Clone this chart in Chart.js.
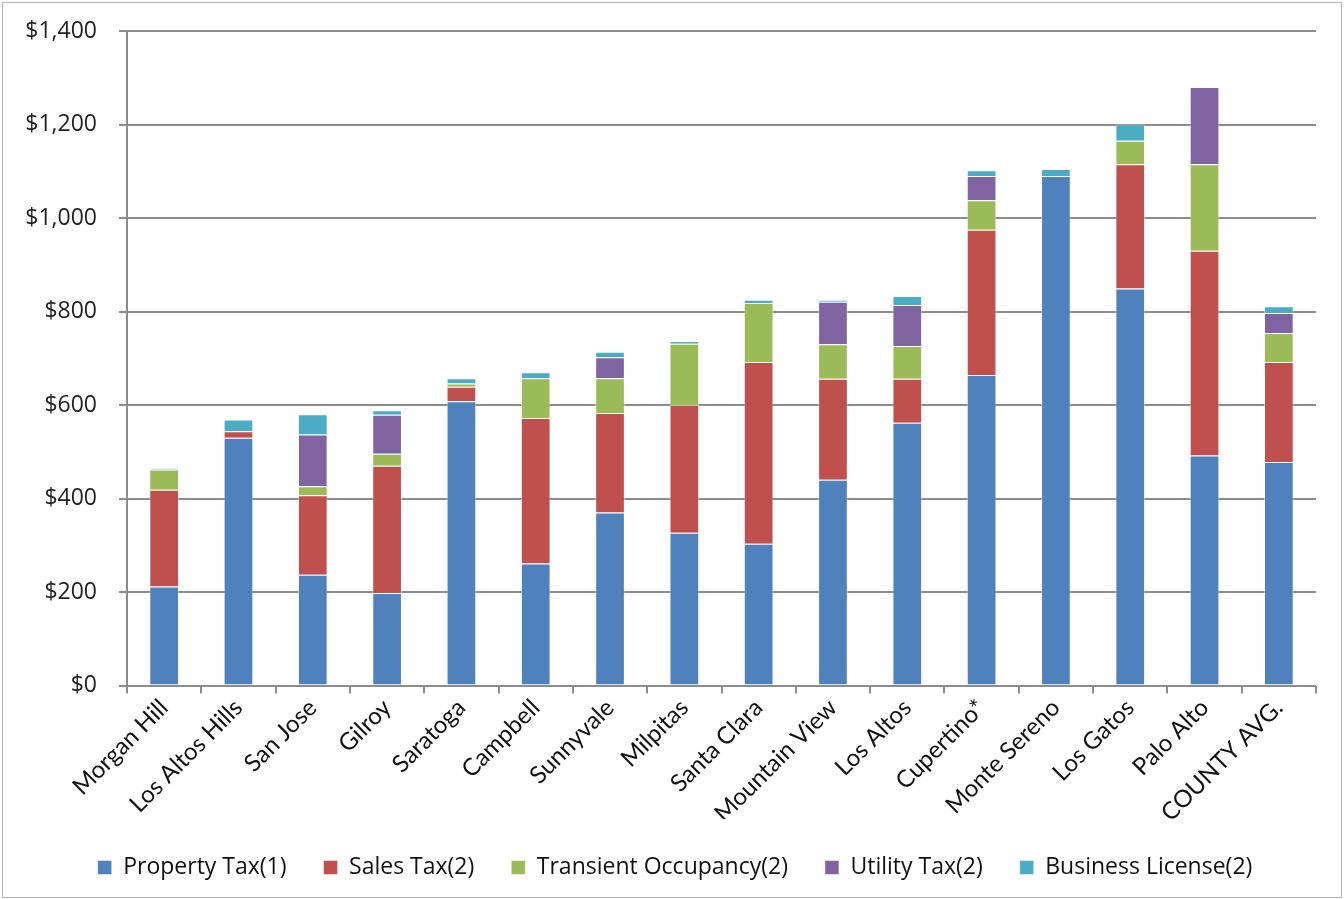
<!DOCTYPE html>
<html>
<head>
<meta charset="utf-8">
<title>Revenue per Capita by City</title>
<script src="https://cdn.jsdelivr.net/npm/chart.js@4"></script>
<style>
	body { margin: 0; background: #fff; }
	.chart-box {
		position: absolute;
		left: 2px;
		top: 2px;
		width: 1338px;
		height: 894px;
		border: 1px solid #b5b5b5;
	}
</style>
</head>
<body>
<div class="chart-box">
	<canvas id="taxChart"></canvas>
</div>
<script>
const cities = [
	'Morgan Hill', 'Los Altos Hills', 'San Jose', 'Gilroy', 'Saratoga', 'Campbell',
	'Sunnyvale', 'Milpitas', 'Santa Clara', 'Mountain View', 'Los Altos', 'Cupertino*',
	'Monte Sereno', 'Los Gatos', 'Palo Alto', 'COUNTY AVG.',
]

const propertyTax = [212, 530, 237, 198, 608, 261, 370, 327, 303, 440, 562, 664, 1090, 849, 492, 478]
const salesTax = [207, 14, 170, 272, 31, 311, 213, 273, 389, 216, 94, 311, 0, 266, 438, 214]
const transientOccupancy = [43, 0, 19, 26, 7, 85, 74, 131, 126, 74, 70, 63, 0, 50, 185, 62]
const utilityTax = [0, 0, 111, 83, 0, 0, 45, 0, 0, 91, 88, 52, 0, 0, 165, 43]
const businessLicense = [3, 25, 43, 10, 11, 13, 12, 6, 7, 4, 19, 12, 15, 35, 0, 14]

const yTicks = [0, 200, 400, 600, 800, 1000, 1200, 1400]

const series = [
	{ label: 'Property Tax(1)', data: propertyTax, color: '#4f81bd' },
	{ label: 'Sales Tax(2)', data: salesTax, color: '#c0504d' },
	{ label: 'Transient Occupancy(2)', data: transientOccupancy, color: '#9bbb59' },
	{ label: 'Utility Tax(2)', data: utilityTax, color: '#8064a2' },
	{ label: 'Business License(2)', data: businessLicense, color: '#4bacc6' },
]

const labelFont = 'Lato, "Open Sans", sans-serif'
const wideFont = '"Open Sans", Lato, sans-serif'

const chart = new Chart(document.getElementById('taxChart'), {
	type: 'bar',
	data: {
		labels: cities,
		datasets: series.map(s => ({
			label: s.label,
			data: s.data,
			backgroundColor: s.color,
			borderColor: 'rgba(255, 255, 255, 0.45)',
			borderWidth: 1,
			barPercentage: 0.4,
			categoryPercentage: 1,
		})),
	},
	options: {
		responsive: true,
		maintainAspectRatio: false,
		animation: false,
		layout: {
			padding: { left: 14, right: 8, top: 12, bottom: 8 },
		},
		plugins: {
			tooltip: { enabled: false },
			legend: {
				position: 'bottom',
				labels: {
					boxWidth: 14,
					boxHeight: 14,
					padding: 37,
					color: '#111',
					font: { family: wideFont, size: 23 },
				},
			},
		},
		scales: {
			x: {
				stacked: true,
				// keep the slanted first label from pushing the plot rightwards,
				// and trim the slack chart.js leaves under the slanted labels
				afterFit: s => {
					s.paddingLeft = 0
					s.paddingRight = 25
					s.height = s.height - 9
				},
				grid: {
					offset: true,
					drawOnChartArea: false,
					drawTicks: true,
					tickLength: 8,
					color: '#8c8c8c',
					lineWidth: 2,
				},
				border: { display: false },
				ticks: {
					minRotation: 45,
					maxRotation: 45,
					autoSkip: false,
					color: '#111',
					padding: 0,
					font: { family: labelFont, size: 24 },
				},
			},
			y: {
				stacked: true,
				min: 0,
				max: 1400,
				afterBuildTicks: axis => {
					axis.ticks = yTicks.map(v => ({ value: v }))
				},
				afterFit: s => {
					s.width = 110
					s.paddingTop = 28
				},
				grid: {
					color: '#8c8c8c',
					lineWidth: 2,
					tickLength: 8,
				},
				border: { display: true, color: '#8c8c8c', width: 2 },
				ticks: {
					color: '#222',
					padding: 22,
					font: { family: wideFont, size: 23 },
					callback: v => '$' + v.toLocaleString('en-US'),
				},
			},
		},
	},
})
</script>
</body>
</html>
